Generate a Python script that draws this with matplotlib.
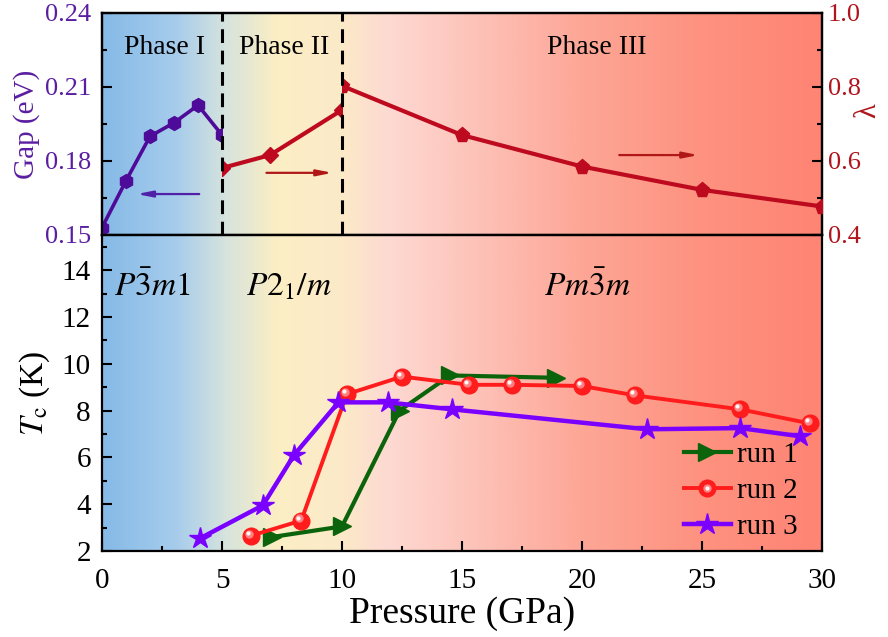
import numpy as np
import matplotlib
matplotlib.use('Agg')
import matplotlib.pyplot as plt
from matplotlib.colors import LinearSegmentedColormap
from matplotlib.patches import Rectangle
from matplotlib.lines import Line2D
from matplotlib.legend_handler import HandlerTuple
from matplotlib.transforms import ScaledTranslation
from matplotlib.ticker import MultipleLocator

plt.rcParams['font.family'] = ['Liberation Serif', 'DejaVu Serif']
plt.rcParams['mathtext.fontset'] = 'stix'

# ---------------- data ----------------
gap_p = [0, 1, 2, 3, 4, 5]
gap_val = [0.153, 0.172, 0.190, 0.1955, 0.2026, 0.1905]

lam2_p = [5, 7, 10]
lam2_val = [0.581, 0.616, 0.738]
lam3_p = [10, 15, 20, 25, 30]
lam3_val = [0.803, 0.670, 0.585, 0.522, 0.477]

run1_p = [7.1, 10.0, 12.4, 14.5, 18.9]
run1_tc = [2.6, 3.05, 8.0, 9.5, 9.4]
run2_p = [6.2, 8.3, 10.2, 12.5, 15.3, 17.1, 20.0, 22.2, 26.6, 29.5]
run2_tc = [2.65, 3.3, 8.7, 9.45, 9.1, 9.1, 9.05, 8.65, 8.05, 7.45]
run3_p = [4.1, 6.7, 8.0, 9.85, 11.9, 14.6, 22.7, 26.6, 29.1]
run3_tc = [2.55, 3.95, 6.1, 8.35, 8.35, 8.05, 7.2, 7.25, 6.9]

phase_bounds = [5, 10]
phase_names = ['Phase I', 'Phase II', 'Phase III']
phase_name_x = [2.6, 7.6, 20.6]
space_groups = [r'$P\bar{3}m1$', r'$P2_1/m$', r'$Pm\bar{3}m$']
space_group_x = [0.5, 6.0, 18.4]

x_ticks = [0, 5, 10, 15, 20, 25, 30]

# ---------------- style ----------------
c_gap = '#4E0A98'
c_gap_txt = '#5A1EA0'
c_lam = '#BE0A1E'
c_lam_txt = '#B0141C'
c_run1 = '#0B640B'
c_run2 = '#FF1C1C'
c_run3 = '#7A00FF'

bg_cmap = LinearSegmentedColormap.from_list('bg', [
    (0.00, '#86BAE7'),
    (0.10, '#A6CCEC'),
    (0.17, '#D6E3DD'),
    (0.24, '#FBEEC4'),
    (0.33, '#FCEAC8'),
    (0.40, '#FDD9D2'),
    (0.52, '#FDC2B8'),
    (0.67, '#FDA696'),
    (0.83, '#FE9280'),
    (1.00, '#FF8474'),
])

fig = plt.figure(figsize=(8.88, 6.37), dpi=100)
ax1 = fig.add_axes([0.1149, 0.6311, 0.8108, 0.3485])
ax2 = fig.add_axes([0.1149, 0.1350, 0.8108, 0.4961])

grad = np.linspace(0, 1, 600).reshape(1, -1)
ax1.imshow(grad, cmap=bg_cmap, extent=[0, 30, 0.15, 0.24], aspect='auto',
           zorder=0, interpolation='bilinear')
ax2.imshow(grad, cmap=bg_cmap, extent=[0, 30, 2, 15.5], aspect='auto',
           zorder=0, interpolation='bilinear')

# ---------------- top panel ----------------
ax1.set_xlim(0, 30)
ax1.set_ylim(0.15, 0.24)
ax1r = ax1.twinx()
ax1r.set_ylim(0.4, 1.0)

l_gap, = ax1.plot(gap_p, gap_val, '-h', color=c_gap, lw=2.6, ms=10, zorder=3)
l_gap.set_clip_path(Rectangle((0, 0.1), 5, 0.2, transform=ax1.transData))

l_l2, = ax1r.plot(lam2_p, lam2_val, '-D', color=c_lam, lw=3.0, ms=8, zorder=3)
l_l2.set_clip_path(Rectangle((5, 0.0), 5, 2, transform=ax1r.transData))
l_l3, = ax1r.plot(lam3_p, lam3_val, '-p', color=c_lam, lw=3.0, ms=11, zorder=3)
l_l3.set_clip_path(Rectangle((10, 0.0), 20, 2, transform=ax1r.transData))

for xb in phase_bounds:
    ax1r.axvline(xb, color='black', lw=2.2, ls=(0, (4.5, 2.5)), zorder=5)

for nm, xp in zip(phase_names, phase_name_x):
    ax1.text(xp, 0.2235, nm, ha='center', va='baseline', fontsize=20, zorder=4)

ax1.annotate('', xy=(1.45, 0.1666), xytext=(4.05, 0.1666),
             arrowprops=dict(arrowstyle='-|>,head_length=0.9,head_width=0.18',
                             color='#5020A8', lw=1.6, shrinkA=0, shrinkB=0), zorder=4)
ax1r.annotate('', xy=(9.6, 0.568), xytext=(6.85, 0.568),
              arrowprops=dict(arrowstyle='-|>,head_length=0.9,head_width=0.18',
                              color='#B01818', lw=1.6, shrinkA=0, shrinkB=0), zorder=4)
ax1r.annotate('', xy=(24.85, 0.616), xytext=(21.55, 0.616),
              arrowprops=dict(arrowstyle='-|>,head_length=0.9,head_width=0.18',
                              color='#B01818', lw=1.6, shrinkA=0, shrinkB=0), zorder=4)

ax1.set_yticks([0.15, 0.18, 0.21, 0.24])
ax1.yaxis.set_minor_locator(MultipleLocator(0.015))
ax1.set_yticklabels(['0.15', '0.18', '0.21', '0.24'])
ax1.tick_params(axis='x', which='both', bottom=False, top=False, labelbottom=False)
ax1.tick_params(axis='y', which='both', direction='in', width=1.5, labelsize=19,
                labelcolor=c_gap_txt, pad=8)
ax1.tick_params(axis='y', which='major', length=7)
ax1.tick_params(axis='y', which='minor', length=3.5)
ax1.set_ylabel('Gap (eV)', fontsize=21, color=c_gap_txt)
ax1.yaxis.set_label_coords(-0.086, 0.5)

ax1r.set_yticks([0.4, 0.6, 0.8, 1.0])
ax1r.set_yticklabels(['0.4', '0.6', '0.8', '1.0'])
ax1r.yaxis.set_minor_locator(MultipleLocator(0.1))
ax1r.tick_params(axis='y', which='both', direction='in', width=1.5, labelsize=19,
                 labelcolor=c_lam_txt, pad=4)
ax1r.tick_params(axis='y', which='major', length=7)
ax1r.tick_params(axis='y', which='minor', length=3.5)
ax1r.set_ylabel('λ', fontsize=22, color=c_lam_txt, rotation=90, va='center')
ax1r.yaxis.set_label_coords(1.064, 0.56)

for ax in (ax1, ax1r, ax2):
    for s in ax.spines.values():
        s.set_linewidth(1.6)

# ---------------- bottom panel ----------------
ax2.set_xlim(0, 30)
ax2.set_ylim(2, 15.5)

l1, = ax2.plot(run1_p, run1_tc, '->', color=c_run1, lw=3.0, ms=13, zorder=3)
l2, = ax2.plot(run2_p, run2_tc, '-o', color=c_run2, lw=2.8, ms=12, zorder=3)
glow_tr = ax2.transData + ScaledTranslation(-1.5 / 72, 1.5 / 72, fig.dpi_scale_trans)
ax2.plot(run2_p, run2_tc, 'o', color='#FF9A9A', ms=6, alpha=0.8, mew=0,
         transform=glow_tr, zorder=4)
hl_tr = ax2.transData + ScaledTranslation(-2.2 / 72, 2.2 / 72, fig.dpi_scale_trans)
ax2.plot(run2_p, run2_tc, 'o', color='white', ms=3, alpha=0.95, mew=0,
         transform=hl_tr, zorder=4)
l3, = ax2.plot(run3_p, run3_tc, '-*', color=c_run3, lw=3.2, ms=16, zorder=3)

glow = Line2D([], [], marker='o', color='#FF9A9A', ms=6, ls='none', mew=0, alpha=0.8)
hl = Line2D([], [], marker='o', color='white', ms=3, ls='none', mew=0, alpha=0.95)
ax2.legend([l1, (l2, glow, hl), l3], ['run 1', 'run 2', 'run 3'],
           handler_map={tuple: HandlerTuple(ndivide=1, pad=0)},
           loc='center', bbox_to_anchor=(0.887, 0.19), frameon=False,
           fontsize=21, handlelength=1.6, handletextpad=0.2, labelspacing=0.33,
           borderpad=0.2, numpoints=1)

for sg, xp in zip(space_groups, space_group_x):
    ax2.text(xp, 12.9, sg, ha='left', va='baseline', fontsize=24, zorder=4)

ax2.set_xticks(x_ticks)
ax2.set_xticklabels([str(v) for v in x_ticks])
ax2.xaxis.set_minor_locator(MultipleLocator(2.5))
ax2.set_yticks([2, 4, 6, 8, 10, 12, 14])
ax2.set_yticklabels(['2', '4', '6', '8', '10', '12', '14'])
ax2.yaxis.set_minor_locator(MultipleLocator(1))
ax2.tick_params(which='both', direction='in', width=1.5, labelsize=21, top=False, right=False)
ax2.tick_params(which='major', length=7)
ax2.tick_params(which='minor', length=3.5)
ax2.tick_params(axis='x', pad=12)
ax2.tick_params(axis='y', pad=8)
ax2.set_xlabel('Pressure (GPa)', fontsize=27, labelpad=2)
ax2.set_ylabel(r'$T_\mathrm{c}$ (K)', fontsize=24)
ax2.yaxis.set_label_coords(-0.069, 0.5)

fig.savefig('out.png', dpi=100)
